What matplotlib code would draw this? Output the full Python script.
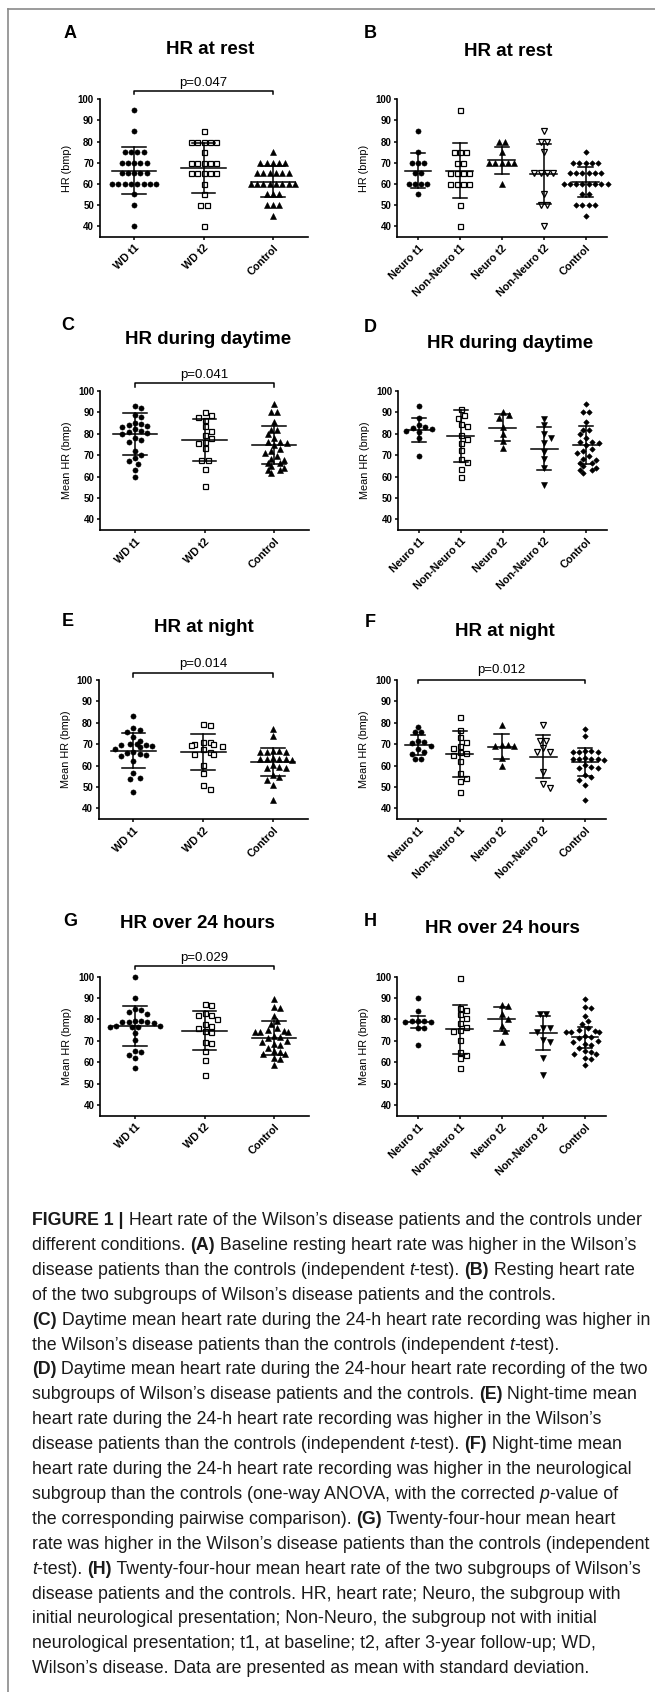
import matplotlib
matplotlib.use("Agg")
import matplotlib.pyplot as plt
from matplotlib.lines import Line2D
import numpy as np

plt.rcParams['font.family'] = ['Liberation Sans', 'DejaVu Sans']

W, H = 655, 1692

# ---------------- data ----------------
groups_wd = ['WD t1', 'WD t2', 'Control']
groups_sub = ['Neuro t1', 'Non-Neuro t1', 'Neuro t2', 'Non-Neuro t2', 'Control']

# HR at rest
rest_wd1 = [95, 85, 75, 75, 75, 75, 70, 70, 70, 70, 70, 65, 65, 65, 65, 65,
            60, 60, 60, 60, 60, 60, 60, 60, 55, 50, 40]
rest_wd2 = [85, 80, 80, 80, 80, 80, 75, 70, 70, 70, 70, 70, 65, 65, 65, 65, 65,
            60, 55, 50, 50, 40]
rest_ctrl = [75, 70, 70, 70, 70, 70, 65, 65, 65, 65, 65, 65, 60, 60, 60, 60, 60,
             60, 60, 60, 55, 55, 55, 50, 50, 50, 45]
rest_n1 = [85, 75, 70, 70, 70, 65, 65, 60, 60, 60, 60, 55]
rest_nn1 = [95, 75, 75, 75, 70, 70, 65, 65, 65, 65, 60, 60, 60, 60, 50, 40]
rest_n2 = [80, 80, 75, 70, 70, 70, 70, 70, 60]
rest_nn2 = [85, 80, 80, 75, 65, 65, 65, 65, 55, 50, 50, 40]
rest_ctrl_sub = [75, 70, 70, 70, 70, 70, 65, 65, 65, 65, 65, 65, 60, 60, 60, 60,
                 60, 60, 60, 60, 55, 55, 50, 50, 50, 50, 45]

# HR during daytime
day_wd1 = [93, 92, 89, 88, 85, 84.5, 84, 83.5, 83, 82, 81.5, 81, 80.5, 80, 78,
           77, 76, 72, 70, 68.5, 67.5, 66, 63, 60]
day_wd2 = [90, 88.7, 88, 86.5, 83.5, 81.3, 79.4, 77.8, 76.3, 75.5, 73.4, 67.7,
           67.7, 63.3, 55.6]
day_ctrl = [93.8, 90.3, 90.3, 85.3, 81.7, 81.7, 80, 78.1, 76.3, 76.3, 75.5, 74.7,
            73, 71.9, 70.8, 69.7, 68.4, 67.7, 66.1, 66.1, 65, 64.1, 63, 63, 61.5]
day_n1 = [93, 87.5, 84, 83, 82.5, 82, 81.5, 81, 78, 69.5]
day_nn1 = [91.6, 89, 87.5, 84.4, 83.8, 79.4, 77.5, 75.9, 72.3, 68.1, 66.6, 63.4, 59.8]
day_n2 = [90, 88.8, 87.5, 83, 80, 76.5, 73.5]
day_nn2 = [86.9, 84, 79.7, 78.1, 75.9, 71.6, 68.1, 63.8, 56]

# HR at night
night_wd1 = [83, 77.7, 76.5, 75.5, 73.5, 71.5, 70, 70, 69.8, 69.5, 69, 68.5, 67.7,
             66.5, 65.7, 65.3, 65, 64.5, 62, 56.4, 54.3, 53.7, 47.8]
night_wd2 = [79.3, 79, 71.2, 70.8, 69.9, 69.9, 69.6, 69.3, 67.7, 66.2, 65.3, 65.3,
             60.3, 56.4, 50.9, 49]
night_ctrl = [77.1, 73.9, 66.8, 66.6, 66.5, 66.3, 66.4, 63.3, 63.1, 63.0, 62.8,
              63.2, 62.9, 60.3, 59.2, 59.0, 58.8, 55.6, 54.5, 53.2, 50.8, 43.9]
night_n1 = [78, 75.5, 75.5, 71.5, 71, 70.5, 69, 67.5, 66.5, 65.5, 63, 63]
night_nn1 = [82.9, 76.6, 73.5, 71.2, 69.3, 68.4, 66.2, 65.7, 65, 62.1, 56.4, 54.3,
             52.8, 47.8]
night_n2 = [79, 69.8, 69.5, 69.3, 69, 63.5, 60]
night_nn2 = [79, 71.5, 71.5, 68, 66.5, 66.5, 57.1, 51.2, 49.4]

# HR over 24 hours
h24_wd1 = [100, 89.9, 84.9, 84.4, 83.6, 82.5, 79.2, 79, 78.8, 79.1, 78.6, 78.2,
           77.1, 76.6, 76.8, 76.4, 76.7, 73.5, 70.4, 65.2, 65, 63.4, 62.1, 57.5]
h24_wd2 = [87.2, 86.8, 82.9, 82.1, 82.1, 80.2, 77.7, 77.1, 75.8, 74.6, 74, 69.4,
           68.8, 65.2, 61, 54]
h24_ctrl = [89.4, 86, 85.5, 81.8, 79.3, 77.7, 75.8, 75, 74.3, 74.6, 74.3, 74,
            72.4, 71.9, 71.3, 69.9, 69.6, 68.3, 68, 66.5, 65.2, 65, 63.7, 63.7,
            61.8, 61.5, 58.7]
h24_n1 = [90.2, 83.9, 79.4, 79.3, 79.2, 79, 78.8, 75.8, 75.9, 68]
h24_nn1 = [99.5, 85.5, 84.4, 82.5, 80.8, 78.2, 76.6, 75, 74.6, 70.4, 65, 63.4,
           61.9, 57.5]
h24_n2 = [87, 86.4, 82.4, 80.2, 77.1, 74.6, 69.3]
h24_nn2 = [82.4, 82.4, 76.2, 75.8, 74.3, 70.4, 69.6, 61.9, 54]

# mean and SD as drawn
mean_A, sd_A = [66.2, 67.6, 61.0], [11.0, 11.9, 7.3]
mean_B, sd_B = [66.2, 66.2, 71.2, 64.6, 60.9], [8.2, 12.9, 6.4, 14.2, 7.2]
mean_C, sd_C = [80.0, 77.3, 74.7], [9.9, 9.8, 8.9]
mean_D, sd_D = [81.7, 79.0, 82.8, 73.1, 74.7], [5.6, 12.0, 6.3, 10.0, 8.9]
mean_E, sd_E = [67.0, 66.2, 61.8], [8.0, 8.4, 6.5]
mean_F, sd_F = [69.6, 65.3, 68.8, 64.2, 61.8], [4.5, 10.7, 5.8, 9.9, 6.5]
mean_G, sd_G = [76.9, 74.8, 71.5], [9.2, 9.3, 8.0]
mean_H, sd_H = [79.0, 75.4, 80.2, 73.8, 71.6], [2.8, 11.4, 5.8, 8.0, 4.8]

# marker (shape, filled)
mk_wd = [('o', True), ('s', False), ('^', True)]
mk_sub_open = [('o', True), ('s', False), ('^', True), ('v', False), ('D', True)]
mk_sub_fill = [('o', True), ('s', False), ('^', True), ('v', True), ('D', True)]

panels = [
    dict(letter='A', title='HR at rest', ylabel='HR (bmp)', groups=groups_wd,
         data=[rest_wd1, rest_wd2, rest_ctrl], mean=mean_A, sd=sd_A, mk=mk_wd,
         p=('p=0.047', 0, 2, 104.1, 107.9)),
    dict(letter='B', title='HR at rest', ylabel='HR (bmp)', groups=groups_sub,
         data=[rest_n1, rest_nn1, rest_n2, rest_nn2, rest_ctrl_sub], mean=mean_B,
         sd=sd_B, mk=mk_sub_open, p=None),
    dict(letter='C', title='HR during daytime', ylabel='Mean HR (bmp)', groups=groups_wd,
         data=[day_wd1, day_wd2, day_ctrl], mean=mean_C, sd=sd_C, mk=mk_wd,
         p=('p=0.041', 0, 2, 103.6, 107.5)),
    dict(letter='D', title='HR during daytime', ylabel='Mean HR (bmp)', groups=groups_sub,
         data=[day_n1, day_nn1, day_n2, day_nn2, day_ctrl], mean=mean_D, sd=sd_D,
         mk=mk_sub_fill, p=None),
    dict(letter='E', title='HR at night', ylabel='Mean HR (bmp)', groups=groups_wd,
         data=[night_wd1, night_wd2, night_ctrl], mean=mean_E, sd=sd_E, mk=mk_wd,
         p=('p=0.014', 0, 2, 103.1, 107.4)),
    dict(letter='F', title='HR at night', ylabel='Mean HR (bmp)', groups=groups_sub,
         data=[night_n1, night_nn1, night_n2, night_nn2, night_ctrl], mean=mean_F,
         sd=sd_F, mk=mk_sub_open, p=('p=0.012', 0, 4, 100.0, 104.7)),
    dict(letter='G', title='HR over 24 hours', ylabel='Mean HR (bmp)', groups=groups_wd,
         data=[h24_wd1, h24_wd2, h24_ctrl], mean=mean_G, sd=sd_G, mk=mk_wd,
         p=('p=0.029', 0, 2, 105.0, 108.6)),
    dict(letter='H', title='HR over 24 hours', ylabel='Mean HR (bmp)', groups=groups_sub,
         data=[h24_n1, h24_nn1, h24_n2, h24_nn2, h24_ctrl], mean=mean_H, sd=sd_H,
         mk=mk_sub_fill, p=None),
]

# layout in pixels: axes box (left, top, right, bottom), title centre, letter centre
layout = {
    'A': ((99.5, 99.3, 307.5, 236.7), (210, 49), (70, 34)),
    'B': ((397, 99.3, 606.5, 236.7), (508, 51), (370, 33)),
    'C': ((100, 391, 309, 530), (208, 340), (68, 325)),
    'D': ((398, 391, 607, 530), (510, 343), (370, 327)),
    'E': ((98.5, 680, 308, 819), (204, 627), (68, 621)),
    'F': ((397, 680, 606, 819), (505, 631), (370, 622)),
    'G': ((100, 976.7, 309, 1115.7), (197, 923), (70, 921)),
    'H': ((397, 976.7, 606, 1115.7), (502, 928), (370, 921)),
}

YMIN, YMAX = 35, 100


def swarm_offsets(vals, px_x, px_y, d=6.3):
    """horizontal offsets (data units) so markers do not overlap"""
    vals = np.asarray(vals, float)
    off = np.zeros(len(vals))
    cands = [0.0]
    for k in range(1, 40):
        cands += [k * d / 2, -k * d / 2]
    placed = []
    for i in np.argsort(-vals, kind='stable'):
        y = vals[i] * px_y
        for c in cands:
            if all((c - a) ** 2 + (y - b) ** 2 >= (0.97 * d) ** 2 for a, b in placed):
                off[i] = c
                placed.append((c, y))
                break
    for v in np.unique(vals):
        m = vals == v
        if m.sum() > 1:
            off[m] -= off[m].mean()
    return off / px_x


fig = plt.figure(figsize=(W / 100, H / 100), dpi=100)


def fx(px):
    return px / W


def fy(py):
    return 1 - py / H


for pn in panels:
    (l, t, r, b), tpos, lpos = layout[pn['letter']]
    ax = fig.add_axes([fx(l), fy(b), (r - l) / W, (b - t) / H])
    n = len(pn['groups'])
    ax.set_xlim(-0.5, n - 0.5)
    ax.set_ylim(YMIN, YMAX)
    px_x = (r - l) / n
    px_y = (b - t) / (YMAX - YMIN)

    for i, vals in enumerate(pn['data']):
        shape, filled = pn['mk'][i]
        xs = i + swarm_offsets(vals, px_x, px_y)
        ms = {'o': 3.7, 's': 3.6, '^': 4.0, 'v': 4.0, 'D': 2.8}[shape]
        ax.plot(xs, vals, linestyle='none', marker=shape, ms=ms,
                mfc='black' if filled else 'white', mec='black',
                mew=0.4 if filled else 0.9, clip_on=False, zorder=3)
        m, s = pn['mean'][i], pn['sd'][i]
        ax.plot([i - 0.32, i + 0.32], [m, m], color='black', lw=1.1, zorder=4)
        ax.plot([i, i], [m - s, m + s], color='black', lw=1.1, zorder=4)
        for yy in (m - s, m + s):
            ax.plot([i - 0.17, i + 0.17], [yy, yy], color='black', lw=1.1, zorder=4)

    if pn['p'] is not None:
        txt, x0, x1, yl, yt = pn['p']
        ax.plot([x0, x0, x1, x1], [yl - 1.6, yl, yl, yl - 1.6], color='black',
                lw=1.1, clip_on=False)
        ax.text((x0 + x1) / 2, yt, txt, ha='center', va='center', fontsize=9.5,
                clip_on=False)

    for sp in ('top', 'right'):
        ax.spines[sp].set_visible(False)
    for sp in ('left', 'bottom'):
        ax.spines[sp].set_linewidth(1.2)
    ax.set_yticks(range(40, 101, 10))
    ax.set_xticks(range(n))
    ax.set_xticklabels(pn['groups'], rotation=45, ha='right', rotation_mode='anchor',
                       fontweight='bold', fontsize=7.8)
    for lab in ax.get_yticklabels():
        lab.set_fontweight('bold')
        lab.set_fontsize(7)
    ax.tick_params(length=2.5, width=1.1, pad=1.5)
    ax.tick_params(axis='x', pad=2)
    ax.text(-0.157, 0.5, pn['ylabel'], transform=ax.transAxes, rotation=90,
            ha='center', va='center', fontsize=7.8)
    ax.patch.set_visible(False)

    fig.text(fx(tpos[0]), fy(tpos[1]), pn['title'], ha='center', va='center',
             fontsize=13.5, fontweight='bold')
    fig.text(fx(lpos[0]), fy(lpos[1]), pn['letter'], ha='center', va='center',
             fontsize=13, fontweight='bold')

# frame lines
fig.add_artist(Line2D([fx(8), fx(8)], [0, fy(9)], color='#8a8a8a', lw=1.2))
fig.add_artist(Line2D([fx(8), 1], [fy(9), fy(9)], color='#8a8a8a', lw=1.2))

# ---------------- caption ----------------
N, B, I = 'normal', 'bold', 'italic'
caption = [
    [("FIGURE 1 |", B), (" Heart rate of the Wilson\u2019s disease patients and the controls under", N)],
    [("different conditions. ", N), ("(A)", B), (" Baseline resting heart rate was higher in the Wilson\u2019s", N)],
    [("disease patients than the controls (independent ", N), ("t", I), ("-test). ", N), ("(B)", B), (" Resting heart rate", N)],
    [("of the two subgroups of Wilson\u2019s disease patients and the controls.", N)],
    [("(C)", B), (" Daytime mean heart rate during the 24-h heart rate recording was higher in", N)],
    [("the Wilson\u2019s disease patients than the controls (independent ", N), ("t", I), ("-test).", N)],
    [("(D)", B), (" Daytime mean heart rate during the 24-hour heart rate recording of the two", N)],
    [("subgroups of Wilson\u2019s disease patients and the controls. ", N), ("(E)", B), (" Night-time mean", N)],
    [("heart rate during the 24-h heart rate recording was higher in the Wilson\u2019s", N)],
    [("disease patients than the controls (independent ", N), ("t", I), ("-test). ", N), ("(F)", B), (" Night-time mean", N)],
    [("heart rate during the 24-h heart rate recording was higher in the neurological", N)],
    [("subgroup than the controls (one-way ANOVA, with the corrected ", N), ("p", I), ("-value of", N)],
    [("the corresponding pairwise comparison). ", N), ("(G)", B), (" Twenty-four-hour mean heart", N)],
    [("rate was higher in the Wilson\u2019s disease patients than the controls (independent", N)],
    [("t", I), ("-test). ", N), ("(H)", B), (" Twenty-four-hour mean heart rate of the two subgroups of Wilson\u2019s", N)],
    [("disease patients and the controls. HR, heart rate; Neuro, the subgroup with", N)],
    [("initial neurological presentation; Non-Neuro, the subgroup not with initial", N)],
    [("neurological presentation; t1, at baseline; t2, after 3-year follow-up; WD,", N)],
    [("Wilson\u2019s disease. Data are presented as mean with standard deviation.", N)],
]

renderer = fig.canvas.get_renderer()


def seg_kw(style, size):
    return dict(fontsize=size, fontweight='bold' if style == B else 'normal',
                fontstyle='italic' if style == I else 'normal', color='#1a1a1a')


# font size chosen so that the first line spans the caption width
probe_w = 0
for txt, st in caption[0]:
    tt = fig.text(0, 0, txt, **seg_kw(st, 10))
    probe_w += tt.get_window_extent(renderer).width
    tt.remove()
cap_size = 10 * 612 / probe_w

for k, line in enumerate(caption):
    x = 32
    y = 1220.5 + k * 24.9
    for txt, st in line:
        tt = fig.text(fx(x), fy(y), txt, ha='left', va='center', **seg_kw(st, cap_size))
        x += tt.get_window_extent(renderer).width

fig.savefig('out.png', dpi=100)
